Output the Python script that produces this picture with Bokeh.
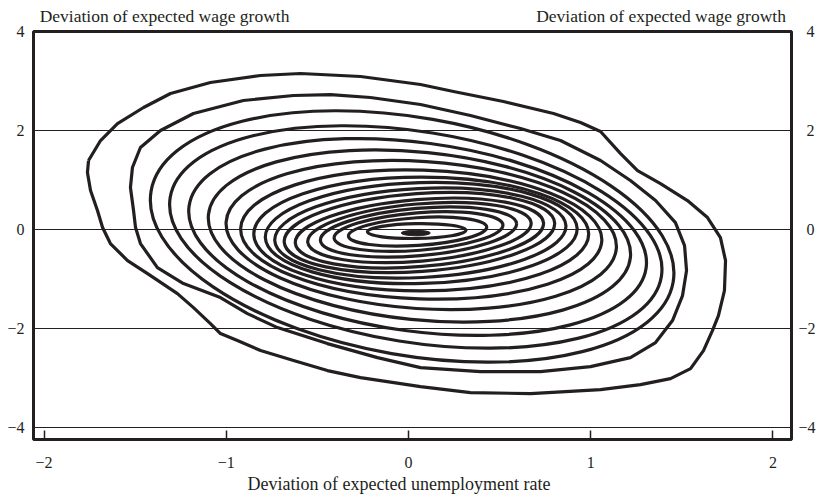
import numpy as np
from bokeh.plotting import figure
from bokeh.models import Range1d, LinearAxis, FixedTicker
from bokeh.embed import file_html
from bokeh.resources import INLINE

# ---------------- data ----------------
x_ticks = [-2, -1, 0, 1, 2]
x_tick_labels = ["\u22122", "\u22121", "0", "1", "2"]
y_ticks = [-4, -2, 0, 2, 4]
y_tick_labels = ["\u22124", "\u22122", "0", "2", "4"]
right_tick_labels = ["\u22124", "\u22122", "\u20070", "\u20072", "\u20074"]

top_title = "Deviation of expected wage growth"
x_title = "Deviation of expected unemployment rate"
top_title_pos = [-1.339, 1.386]

# inner contour rings (innermost first): centre, half-width along the
# horizontal through the centre, half-height along the vertical, and tilt
ring_cx = [0.045, 0.05, 0.055, 0.055, 0.06, 0.06, 0.06, 0.065, 0.07, 0.07,
           0.07, 0.07, 0.06, 0.05, 0.04, 0.02]
ring_cy = [-0.03, -0.04, -0.04, -0.05, -0.06, -0.07, -0.06, -0.07, -0.07, -0.09,
           -0.10, -0.11, -0.13, -0.15, -0.15, -0.14]
ring_half_w = [0.269, 0.362, 0.439, 0.510, 0.585, 0.656, 0.724, 0.790, 0.853, 0.919,
               0.988, 1.059, 1.133, 1.213, 1.293, 1.375]
ring_half_h = [0.15, 0.28, 0.38, 0.48, 0.58, 0.68, 0.79, 0.90, 1.02, 1.15,
               1.30, 1.49, 1.70, 1.92, 2.15, 2.43]
ring_tilt = [0.10, 0.30, 0.32, 0.32, 0.30, 0.27, 0.22, 0.15, 0.08, 0.0,
             -0.08, -0.15, -0.21, -0.26, -0.29, -0.29]

# the two outermost, irregular contours
outer_x = [-1.756, -1.690, -1.597, -1.454, -1.306, -1.087, -0.812, -0.593, -0.263, 0.066,
           0.247, 0.521, 0.796, 0.944, 1.054, 1.164, 1.257, 1.383, 1.531, 1.641,
           1.712, 1.740, 1.734, 1.701, 1.668, 1.619, 1.548, 1.438, 1.273, 1.054,
           0.670, 0.340, 0.066, -0.263, -0.445, -0.631, -0.812, -0.939, -1.032, -1.087,
           -1.180, -1.268, -1.432, -1.542, -1.636, -1.679, -1.707, -1.745, -1.762, -1.756]
outer_y = [1.394, 1.798, 2.141, 2.465, 2.747, 2.970, 3.111, 3.152, 3.091, 2.929,
           2.788, 2.586, 2.343, 2.162, 1.980, 1.535, 1.192, 0.929, 0.586, 0.242,
           -0.162, -0.626, -1.232, -1.737, -2.040, -2.444, -2.808, -3.010, -3.131, -3.232,
           -3.313, -3.293, -3.172, -2.990, -2.848, -2.646, -2.444, -2.242, -2.101, -1.899,
           -1.576, -1.293, -0.889, -0.626, -0.283, 0.040, 0.384, 0.788, 1.152, 1.394]

second_x = [-0.209, 0.066, 0.340, 0.615, 0.834, 1.054, 1.218, 1.356, 1.465, 1.515,
            1.526, 1.504, 1.449, 1.356, 1.218, 0.999, 0.724, 0.395, 0.066, -0.170,
            -0.445, -0.719, -0.884, -1.032, -1.235, -1.378, -1.471, -1.498, -1.509, -1.526,
            -1.515, -1.471, -1.361, -1.180, -0.906, -0.631, -0.428, -0.209]
second_y = [2.667, 2.525, 2.303, 2.040, 1.798, 1.394, 0.990, 0.586, 0.141, -0.323,
            -0.828, -1.333, -1.838, -2.283, -2.586, -2.768, -2.869, -2.869, -2.788, -2.586,
            -2.303, -1.980, -1.697, -1.374, -1.091, -0.768, -0.283, 0.040, 0.384, 0.848,
            1.253, 1.657, 2.000, 2.343, 2.606, 2.707, 2.727, 2.667]

peak_x, peak_y, peak_w, peak_h = [0.04], [-0.07], [0.16], [0.11]

# ---------------- layout ----------------
X_START, X_END = -2.058, 2.102
Y_START, Y_END = -4.24, 4.0
FRAME_W, FRAME_H = 758, 408
INK = "#231f20"
FONT = "Liberation Serif"

p = figure(frame_width=FRAME_W, frame_height=FRAME_H,
           x_range=Range1d(X_START, X_END), y_range=Range1d(Y_START, Y_END),
           output_backend="svg", toolbar_location=None,
           min_border_left=33, min_border_right=28, min_border_top=31, min_border_bottom=58)
p.background_fill_color = "white"
p.border_fill_color = "white"
p.outline_line_color = INK
p.outline_line_width = 3

# grid
p.xgrid.visible = False
p.ygrid.ticker = FixedTicker(ticks=y_ticks)
p.ygrid.grid_line_color = INK
p.ygrid.grid_line_width = 1


def style_axis(ax, standoff, size="16px"):
    ax.minor_tick_line_color = None
    ax.axis_line_color = None
    ax.major_label_standoff = standoff
    ax.major_label_text_font = FONT
    ax.major_label_text_font_size = size
    ax.major_label_text_color = INK


# bottom axis
xa = p.xaxis[0]
xa.ticker = FixedTicker(ticks=x_ticks)
xa.major_label_overrides = dict(zip(x_ticks, x_tick_labels))
xa.major_tick_in = 9
xa.major_tick_out = 0
xa.major_tick_line_width = 1.5
xa.major_tick_line_color = INK
style_axis(xa, 17)
xa.axis_label = x_title + "\u00a0" * 6
xa.axis_label_text_font = FONT
xa.axis_label_text_font_size = "18px"
xa.axis_label_text_font_style = "normal"
xa.axis_label_text_color = INK
xa.axis_label_standoff = 3

# left axis
ya = p.yaxis[0]
ya.ticker = FixedTicker(ticks=y_ticks)
ya.major_label_overrides = dict(zip(y_ticks, y_tick_labels))
ya.major_tick_in = 0
ya.major_tick_out = 0
style_axis(ya, 9)

# right axis
ra = LinearAxis(ticker=FixedTicker(ticks=y_ticks))
ra.major_label_overrides = dict(zip(y_ticks, right_tick_labels))
ra.major_tick_in = 0
ra.major_tick_out = 0
style_axis(ra, 7)
p.add_layout(ra, "right")

# top "axis" carrying the two headings
ta = LinearAxis(ticker=FixedTicker(ticks=top_title_pos))
ta.major_label_overrides = {v: top_title for v in top_title_pos}
ta.major_tick_in = 0
ta.major_tick_out = 0
style_axis(ta, 6, "17.5px")
p.add_layout(ta, "above")

# ---------------- contours ----------------
sx = FRAME_W / (X_END - X_START)
sy = FRAME_H / (Y_END - Y_START)
widths, heights, angles = [], [], []
for h, k, r in zip(ring_half_w, ring_half_h, ring_tilt):
    hp, kp = h * sx, k * sy
    beta = -r
    m = np.array([[1 / hp ** 2, beta / (hp * kp)], [beta / (hp * kp), 1 / kp ** 2]])
    vals, vecs = np.linalg.eigh(m)
    a = 1 / np.sqrt(vals[0])
    b = 1 / np.sqrt(vals[1])
    vx, vy = vecs[:, 0]
    if vx < 0:
        vx, vy = -vx, -vy
    widths.append(2 * a / sx)
    heights.append(2 * b / sy)
    angles.append(float(np.arctan2(vy, vx)))

p.ellipse(x=ring_cx, y=ring_cy, width=widths, height=heights, angle=angles,
          fill_color=None, line_color=INK, line_width=3.2)
p.line(outer_x, outer_y, line_color=INK, line_width=3.2, line_join="round")
p.line(second_x, second_y, line_color=INK, line_width=3.2, line_join="round")
p.ellipse(x=peak_x, y=peak_y, width=peak_w, height=peak_h,
          fill_color=INK, line_color=INK, line_width=1)

open("out.html", "w").write(file_html(p, INLINE))
